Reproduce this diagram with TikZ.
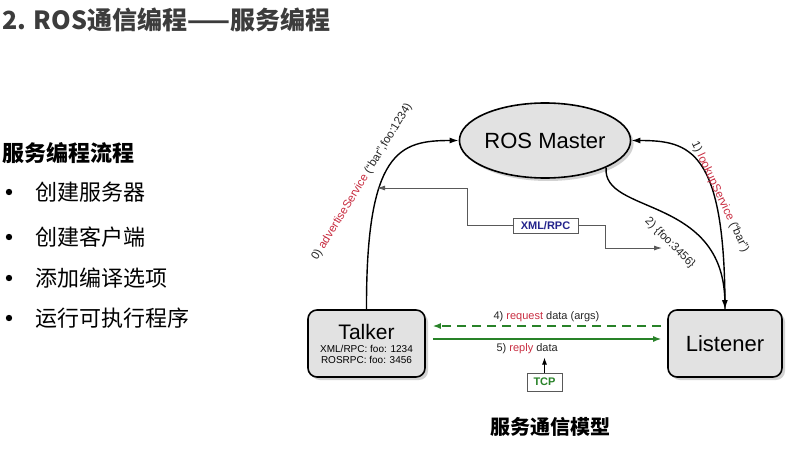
\documentclass[tikz,border=0pt]{standalone}
\usepackage{fontspec}
\setmainfont{Liberation Sans}
\newfontfamily\cjk{Noto Sans CJK SC}
\usetikzlibrary{shapes,arrows.meta,shadows,positioning}
\definecolor{titlegray}{RGB}{60,60,60}
\definecolor{svcred}{RGB}{200,45,65}
\definecolor{flowgreen}{RGB}{40,130,40}
\definecolor{rpcblue}{RGB}{35,35,140}
\definecolor{boxgray}{RGB}{226,226,226}
\newcommand{\fsz}[1]{\fontsize{#1}{#1}\selectfont}

\begin{document}
\begin{tikzpicture}[x=1pt,y=-1pt,
    master/.style={ellipse,draw,line width=1.6pt,fill=boxgray,minimum width=160pt,minimum height=75pt,inner sep=0pt,
        font=\fsz{22},drop shadow={shadow xshift=3pt,shadow yshift=-3pt,fill=gray!70}},
    peer/.style={rectangle,rounded corners=9pt,draw,line width=1.6pt,fill=boxgray,minimum height=67pt,inner sep=0pt,
        align=center,drop shadow={shadow xshift=3pt,shadow yshift=-3pt,fill=gray!70}},
    flow/.style={line width=1.4pt,-{Latex[length=9pt,width=6pt]}},
    rpc/.style={gray!70!black,line width=0.9pt,-{Latex[length=8pt,width=5pt]}},
    tag/.style={draw=gray!70!black,line width=0.9pt,fill=white,inner sep=2pt,font=\bfseries\fsz{11}},
    lbl/.style={font=\fsz{11},text=black!85,inner sep=1pt},
    green/.style={flowgreen,line width=1.4pt},
    item/.style={anchor=west,font=\cjk\fsz{22}}]
\useasboundingbox (0,0) rectangle (791,468);

% slide text
\node[anchor=west,inner sep=0pt,font=\cjk\bfseries\fsz{25},text=titlegray] (title) at (2,20) {2. ROS通信编程——服务编程};
\node[anchor=west,inner sep=0pt,font=\cjk\bfseries\fsz{22}] (head) at (2,153) {服务编程流程};
\foreach \y/\txt [count=\i] in {192/创建服务器,237/创建客户端,278/添加编译选项,318/运行可执行程序}{
    \fill (9,\y) circle (3.2);
    \node[item,inner sep=0pt] (item\i) at (35,\y) {\txt};
}

% nodes
\node[master] (master) at (545,140.5) {ROS Master};
\node[peer,minimum width=117pt] (talker) at (366.5,343.5)
    {{\fsz{21}Talker}\\[1pt]{\fsz{10}XML/RPC: foo: 1234}\\[-1pt]{\fsz{10}ROSRPC: foo: 3456}};
\node[peer,minimum width=114pt,font=\fsz{22}] (listener) at (725,343.5) {Listener};
\node[tag,text=rpcblue,minimum width=65pt,minimum height=15pt] (xml) at (545.5,225.5) {XML/RPC};
\node[tag,text=flowgreen,minimum width=35pt,minimum height=18pt] (tcp) at (544.5,382) {TCP};

% master connections
\draw[flow] (talker.north) .. controls (366,150) and (400,140.5) .. (master.west);
\draw[flow] (listener.north) .. controls (725,150) and (690,140.5) .. (master.east);
\draw[flow] (master.south east) .. controls (602,215) and (723,195) .. (listener.north);

\coordinate (xl) at (377,188);
\coordinate (xr) at (662,248);
\draw[rpc] (xml.west) -- ++(-45,0) |- (xl);
\draw[rpc] (xml.east) -- ++(27,0) |- (xr);

\node[lbl,rotate=58.5,font=\fsz{11.5}] (advlbl) at (362,182) {0) \textcolor{svcred}{advertiseService} (``bar'',foo:1234)};
\node[lbl,rotate=-64.8,font=\fsz{11.5}] (looklbl) at (720,197) {1) \textcolor{svcred}{lookupService} (``bar'')};
\node[lbl,rotate=-45,font=\fsz{11.5}] (foolbl) at (670,243) {2) \{foo:3456\}};

% service call
\draw[green,dashed,dash pattern=on 9pt off 6pt,-{Latex[length=8pt,width=6pt]},shorten <=6pt,shorten >=7pt]
    ([yshift=17.5pt]listener.west) -- ([yshift=17.5pt]talker.east)
    node[lbl,midway,above=3pt] {4) \textcolor{svcred}{request} data (args)};
\draw[green,-{Latex[length=8pt,width=6pt]},shorten <=7pt,shorten >=6pt]
    ([yshift=4.5pt]talker.east) -- ([yshift=4.5pt]listener.west)
    node[lbl,pos=0.42,below=3pt] {5) \textcolor{svcred}{reply} data};
\draw[line width=0.9pt,-{Latex[length=7pt,width=5pt]}] (tcp.north) -- ++(0,-15);

\node[font=\cjk\bfseries\fsz{20}] (caption) at (550,427) {服务通信模型};
\end{tikzpicture}
\end{document}
